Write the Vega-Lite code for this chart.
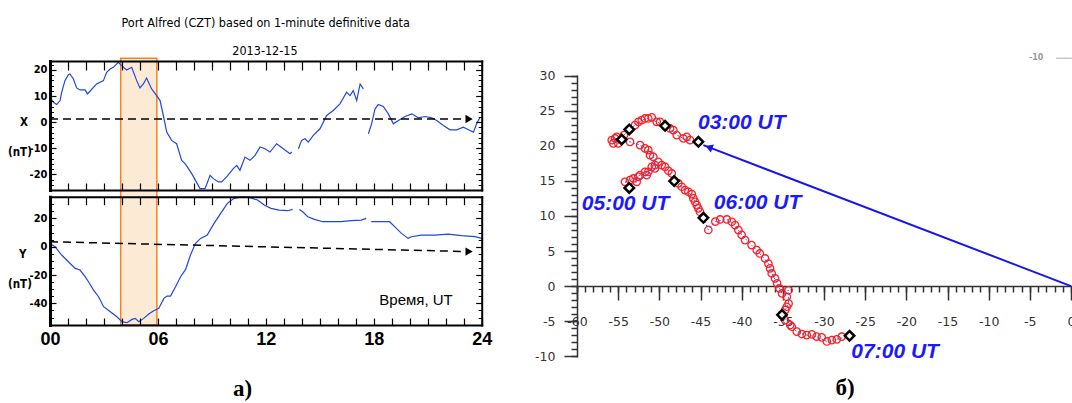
{
  "$schema": "https://vega.github.io/schema/vega-lite/v6.json",
  "width": 1072,
  "height": 403,
  "autosize": {"type": "none"},
  "padding": 0,
  "background": "white",
  "config": {
    "view": {"stroke": null},
    "axis": {"grid": false, "labelFlush": false, "labelOverlap": false, "labelBound": false, "domainColor": "black", "tickColor": "black", "labelColor": "black", "domainCap": "square"}
  },
  "datasets": {
    "xcomp": [
      {"h":0,"v":9.55,"s":1},{"h":0.19,"v":7.64,"s":1},{"h":0.37,"v":6.75,"s":1},{"h":0.56,"v":8.28,"s":1},{"h":0.65,"v":11.46,"s":1},{"h":0.83,"v":15.92,"s":1},{"h":1.02,"v":18.22,"s":1},{"h":1.11,"v":18.47,"s":1},{"h":1.3,"v":16.56,"s":1},{"h":1.48,"v":13.12,"s":1},{"h":1.67,"v":12.36,"s":1},{"h":1.95,"v":12.36,"s":1},{"h":2.08,"v":10.83,"s":1},{"h":2.22,"v":11.85,"s":1},{"h":2.59,"v":14.65,"s":1},{"h":2.97,"v":15.92,"s":1},{"h":3.15,"v":19.11,"s":1},{"h":3.34,"v":20.38,"s":1},{"h":3.52,"v":21.02,"s":1},{"h":3.8,"v":22.93,"s":1},{"h":3.98,"v":21.66,"s":1},{"h":4.26,"v":20.0,"s":1},{"h":4.54,"v":21.02,"s":1},{"h":4.82,"v":15.92,"s":1},{"h":5.0,"v":13.12,"s":1},{"h":5.19,"v":14.65,"s":1},{"h":5.37,"v":16.94,"s":1},{"h":5.65,"v":12.74,"s":1},{"h":5.93,"v":10.19,"s":1},{"h":6.12,"v":8.28,"s":1},{"h":6.3,"v":2.55,"s":1},{"h":6.49,"v":-3.82,"s":1},{"h":6.76,"v":-7.0,"s":1},{"h":7.04,"v":-8.28,"s":1},{"h":7.32,"v":-14.65,"s":1},{"h":7.51,"v":-15.92,"s":1},{"h":7.88,"v":-19.75,"s":1},{"h":8.34,"v":-25.48,"s":1},{"h":8.62,"v":-25.48,"s":1},{"h":8.9,"v":-20.38,"s":1},{"h":9.08,"v":-21.66,"s":1},{"h":9.36,"v":-22.93,"s":1},{"h":9.54,"v":-22.93,"s":1},{"h":9.82,"v":-21.02,"s":1},{"h":10.19,"v":-17.83,"s":1},{"h":10.38,"v":-16.56,"s":1},{"h":10.56,"v":-18.47,"s":1},{"h":10.84,"v":-13.38,"s":1},{"h":11.12,"v":-14.65,"s":1},{"h":11.4,"v":-12.74,"s":1},{"h":11.68,"v":-9.55,"s":1},{"h":11.95,"v":-10.19,"s":1},{"h":12.23,"v":-11.46,"s":1},{"h":12.6,"v":-8.28,"s":1},{"h":12.97,"v":-10.19,"s":1},{"h":13.34,"v":-12.1,"s":1},{"h":13.44,"v":-11.46,"s":1},
      {"h":13.81,"v":-10.19,"s":2},{"h":13.99,"v":-7.0,"s":2},{"h":14.18,"v":-6.37,"s":2},{"h":14.36,"v":-7.64,"s":2},{"h":14.64,"v":-5.1,"s":2},{"h":15.01,"v":-2.55,"s":2},{"h":15.38,"v":2.55,"s":2},{"h":15.75,"v":4.46,"s":2},{"h":16.12,"v":7.01,"s":2},{"h":16.49,"v":11.46,"s":2},{"h":16.68,"v":10.19,"s":2},{"h":16.86,"v":12.1,"s":2},{"h":17.05,"v":8.28,"s":2},{"h":17.24,"v":14.65,"s":2},{"h":17.42,"v":12.74,"s":2},
      {"h":17.7,"v":-4.46,"s":3},{"h":17.88,"v":-0.64,"s":3},{"h":18.07,"v":5.1,"s":3},{"h":18.25,"v":6.75,"s":3},{"h":18.53,"v":5.99,"s":3},{"h":18.81,"v":3.18,"s":3},{"h":19.09,"v":-0.64,"s":3},{"h":19.37,"v":0.64,"s":3},{"h":19.74,"v":2.17,"s":3},{"h":20.11,"v":3.18,"s":3},{"h":20.48,"v":1.66,"s":3},{"h":20.85,"v":2.17,"s":3},{"h":21.22,"v":1.66,"s":3},{"h":21.5,"v":0.64,"s":3},{"h":21.87,"v":-1.27,"s":3},{"h":22.24,"v":-2.93,"s":3},{"h":22.61,"v":-2.93,"s":3},{"h":22.98,"v":-1.91,"s":3},{"h":23.35,"v":-3.18,"s":3},{"h":23.54,"v":-3.82,"s":3},{"h":23.72,"v":-0.64,"s":3},{"h":23.91,"v":1.91,"s":3}
    ],
    "ycomp": [
      {"h":0,"v":2.35,"s":1},{"h":0.28,"v":0,"s":1},{"h":0.65,"v":-5.88,"s":1},{"h":1.02,"v":-10.59,"s":1},{"h":1.4,"v":-15.29,"s":1},{"h":1.67,"v":-16.47,"s":1},{"h":1.95,"v":-21.18,"s":1},{"h":2.14,"v":-24.7,"s":1},{"h":2.42,"v":-30.59,"s":1},{"h":2.7,"v":-35.29,"s":1},{"h":2.98,"v":-42.35,"s":1},{"h":3.35,"v":-45.88,"s":1},{"h":3.72,"v":-49.41,"s":1},{"h":4.0,"v":-52.94,"s":1},{"h":4.28,"v":-53.65,"s":1},{"h":4.56,"v":-51.29,"s":1},{"h":4.74,"v":-50.59,"s":1},{"h":4.93,"v":-52.94,"s":1},{"h":5.21,"v":-50.59,"s":1},{"h":5.49,"v":-47.53,"s":1},{"h":5.77,"v":-45.18,"s":1},{"h":6.05,"v":-43.53,"s":1},{"h":6.33,"v":-36.47,"s":1},{"h":6.51,"v":-34.82,"s":1},{"h":6.7,"v":-34.82,"s":1},{"h":6.98,"v":-28.24,"s":1},{"h":7.26,"v":-21.18,"s":1},{"h":7.54,"v":-16.0,"s":1},{"h":7.81,"v":-5.88,"s":1},{"h":8.09,"v":2.35,"s":1},{"h":8.37,"v":5.88,"s":1},{"h":8.74,"v":8.24,"s":1},{"h":9.12,"v":16.47,"s":1},{"h":9.49,"v":23.53,"s":1},{"h":9.86,"v":30.59,"s":1},{"h":10.23,"v":34.12,"s":1},{"h":10.61,"v":35.0,"s":1},{"h":11.07,"v":34.8,"s":1},{"h":11.54,"v":32.94,"s":1},{"h":11.91,"v":29.41,"s":1},{"h":12.28,"v":27.06,"s":1},{"h":12.74,"v":25.88,"s":1},{"h":13.21,"v":25.41,"s":1},{"h":13.49,"v":26.35,"s":1},
      {"h":13.86,"v":26.35,"s":2},{"h":14.05,"v":24.7,"s":2},{"h":14.33,"v":21.18,"s":2},{"h":14.7,"v":19.29,"s":2},{"h":15.16,"v":17.65,"s":2},{"h":15.63,"v":17.65,"s":2},{"h":16.19,"v":17.65,"s":2},{"h":16.74,"v":18.35,"s":2},{"h":17.3,"v":18.82,"s":2},{"h":17.58,"v":20.0,"s":2},
      {"h":17.86,"v":17.65,"s":3},{"h":18.42,"v":17.65,"s":3},{"h":18.88,"v":17.65,"s":3},{"h":19.26,"v":12.94,"s":3},{"h":19.54,"v":9.41,"s":3},{"h":19.91,"v":5.88,"s":3},{"h":20.09,"v":7.06,"s":3},{"h":20.65,"v":8.24,"s":3},{"h":21.4,"v":8.24,"s":3},{"h":22.14,"v":8.94,"s":3},{"h":22.88,"v":7.76,"s":3},{"h":23.63,"v":7.06,"s":3},{"h":24.0,"v":5.88,"s":3}
    ],
    "hodo": [
      {"i":1,"bx":-45.26,"by":20.57},{"i":2,"bx":-46.27,"by":20.81},{"i":3,"bx":-47.08,"by":21.05},{"i":4,"bx":-47.89,"by":21.53},{"i":5,"bx":-48.7,"by":22.48},{"i":6,"bx":-49.3,"by":22.85},{"i":7,"bx":-50.32,"by":23.42},{"i":8,"bx":-51.34,"by":23.9},{"i":9,"bx":-52.14,"by":23.66},{"i":10,"bx":-52.95,"by":22.95},{"i":11,"bx":-53.65,"by":22.34},{"i":12,"bx":-54.29,"by":21.53},{"i":13,"bx":-54.57,"by":20.9},{"i":14,"bx":-55.38,"by":21.05},{"i":15,"bx":-55.78,"by":20.81},{"i":16,"bx":-54.98,"by":20.34},{"i":17,"bx":-53.56,"by":20.57},{"i":18,"bx":-52.34,"by":20.1},{"i":19,"bx":-51.34,"by":19.39},{"i":20,"bx":-50.73,"by":18.43},{"i":21,"bx":-50.53,"by":17.25},{"i":22,"bx":-51.34,"by":16.3},{"i":23,"bx":-52.34,"by":15.82},{"i":24,"bx":-53.15,"by":15.35},{"i":25,"bx":-54.17,"by":14.87},{"i":26,"bx":-53.65,"by":14.0},{"i":27,"bx":-52.75,"by":14.87},{"i":28,"bx":-51.53,"by":15.82},{"i":29,"bx":-50.53,"by":16.78},{"i":30,"bx":-49.71,"by":17.25},{"i":31,"bx":-48.9,"by":16.44},{"i":32,"bx":-48.2,"by":14.97},{"i":33,"bx":-47.28,"by":14.16},{"i":34,"bx":-46.47,"by":13.45},{"i":35,"bx":-45.87,"by":12.5},{"i":36,"bx":-45.46,"by":11.55},{"i":37,"bx":-45.06,"by":10.6},{"i":38,"bx":-44.65,"by":9.74},{"i":39,"bx":-44.05,"by":8.0},{"i":40,"bx":-43.2,"by":9.2},{"i":41,"bx":-41.8,"by":9.5},{"i":42,"bx":-40.8,"by":8.7},{"i":43,"bx":-40.0,"by":7.3},{"i":44,"bx":-38.8,"by":5.85},{"i":45,"bx":-37.8,"by":4.65},{"i":46,"bx":-36.75,"by":3.2},{"i":47,"bx":-36.35,"by":1.8},{"i":48,"bx":-35.7,"by":0.4},{"i":49,"bx":-35.1,"by":-1.05},{"i":50,"bx":-34.3,"by":-0.6},{"i":51,"bx":-34.3,"by":-2.5},{"i":52,"bx":-34.7,"by":-3.4},{"i":53,"bx":-35.1,"by":-4.1},{"i":54,"bx":-34.1,"by":-5.55},{"i":55,"bx":-33.3,"by":-6.5},{"i":56,"bx":-32.1,"by":-7.0},{"i":57,"bx":-30.9,"by":-7.2},{"i":58,"bx":-29.65,"by":-7.9},{"i":59,"bx":-28.45,"by":-7.6},{"i":60,"bx":-26.9,"by":-7.1}
    ],
    "extracircles": [
      {"bx":-33.91,"by":-5.8},{"bx":-32.7,"by":-6.84},{"bx":-31.48,"by":-6.89},{"bx":-30.27,"by":-7.32},{"bx":-29.05,"by":-7.7},{"bx":-27.84,"by":-7.22},
      {"bx":-39.59,"by":6.56},{"bx":-38.17,"by":5.13},{"bx":-37.16,"by":3.94},{"bx":-36.55,"by":2.52},{"bx":-35.94,"by":1.09},{"bx":-35.41,"by":-0.33},{"bx":-34.52,"by":-1.52},{"bx":-34.73,"by":-4.85},{"bx":-34.52,"by":-2.95},
      {"bx":-42.62,"by":9.5},{"bx":-41.2,"by":9.17},{"bx":-40.4,"by":7.98},
      {"bx":-46.67,"by":21.28},{"bx":-48.3,"by":22.24},{"bx":-49.92,"by":23.42},{"bx":-50.92,"by":24.05},{"bx":-51.74,"by":23.9},{"bx":-52.55,"by":23.42},{"bx":-55.18,"by":21.28},{"bx":-55.59,"by":20.34},
      {"bx":-53.56,"by":15.11},{"bx":-52.55,"by":15.58},{"bx":-51.74,"by":16.29},{"bx":-50.92,"by":17.0},{"bx":-51.13,"by":18.67},{"bx":-51.74,"by":19.63},
      {"bx":-47.69,"by":14.64},{"bx":-46.88,"by":13.68},{"bx":-46.06,"by":13.11},{"bx":-45.66,"by":12.02},{"bx":-45.26,"by":11.08},
      {"bx":-50.12,"by":17.72},{"bx":-49.31,"by":17.0},{"bx":-48.49,"by":16.06}
    ],
    "diamonds": [
      {"bx":-45.26,"by":20.57},{"bx":-49.3,"by":22.85},{"bx":-53.65,"by":22.34},{"bx":-54.57,"by":20.9},{"bx":-53.65,"by":14.0},{"bx":-48.2,"by":14.97},{"bx":-44.65,"by":9.74},{"bx":-35.1,"by":-4.1},{"bx":-26.9,"by":-7.1}
    ],
    "timelabels": [
      {"bx":-39.99,"by":23.19,"t":"03:00 UT"},{"bx":-54.1,"by":11.69,"t":"05:00 UT"},{"bx":-38.07,"by":11.79,"t":"06:00 UT"},{"bx":-21.36,"by":-9.4,"t":"07:00 UT"}
    ]
  },
  "layer": [
    {
      "layer": [
        {
          "data": {"values": [{"h": 3.93, "h2": 5.94, "v": 24.5, "v2": -77.8}]},
          "mark": {"type": "rect", "fill": "#fdead5", "stroke": "#f5821f", "strokeWidth": 1.5},
          "encoding": {
            "x": {"field": "h", "type": "quantitative", "scale": {"domain": [0, 24], "range": [50, 481.7], "nice": false, "zero": false},
              "axis": {"orient": "top", "offset": -61, "values": [0,1,2,3,4,5,6,7,8,9,10,11,12,13,14,15,16,17,18,19,20,21,22,23,24], "labels": false, "tickSize": -9, "tickWidth": 1.2, "domainWidth": 2, "title": null, "zindex": 2}},
            "x2": {"field": "h2"},
            "y": {"field": "v", "type": "quantitative", "scale": {"domain": [-26.02, 23.45], "range": [190, 61], "nice": false, "zero": false},
              "axis": {"orient": "right", "offset": -590.3, "values": [-20,-10,0,10,20], "labels": false, "tickSize": -6, "tickWidth": 1.2, "domainWidth": 2, "title": null, "zindex": 2}},
            "y2": {"field": "v2"}
          }
        },
        {
          "data": {"name": "xcomp"},
          "mark": {"type": "line", "color": "#1f48e0", "strokeWidth": 1.2},
          "encoding": {
            "x": {"field": "h", "type": "quantitative", "scale": {"domain": [0, 24], "range": [50, 481.7], "nice": false, "zero": false},
              "axis": {"orient": "bottom", "offset": -213, "values": [0,1,2,3,4,5,6,7,8,9,10,11,12,13,14,15,16,17,18,19,20,21,22,23,24], "labels": false, "tickSize": -7, "tickWidth": 1.2, "domainWidth": 2, "title": null, "zindex": 2}},
            "y": {"field": "v", "type": "quantitative", "scale": {"domain": [-26.02, 23.45], "range": [190, 61], "nice": false, "zero": false},
              "axis": {"orient": "left", "offset": -50, "values": [-20,-10,0,10,20], "tickSize": -6, "tickWidth": 1.2, "labelPadding": 9, "labelFont": "Liberation Sans Narrow, DejaVu Sans Condensed, Liberation Sans", "labelFontSize": 11, "labelFontWeight": "bold", "labelExpr": "'' + datum.value", "domainWidth": 3, "title": null, "zindex": 2}},
            "detail": {"field": "s", "type": "nominal"}
          }
        },
        {
          "data": {"values": [{"h": 0, "v": 1.2}, {"h": 23.1, "v": 1.2}]},
          "mark": {"type": "line", "color": "black", "strokeWidth": 1.5, "strokeDash": [8, 5]},
          "encoding": {
            "x": {"field": "h", "type": "quantitative", "scale": {"domain": [0, 24], "range": [50, 481.7], "nice": false, "zero": false}, "axis": null},
            "y": {"field": "v", "type": "quantitative", "scale": {"domain": [-26.02, 23.45], "range": [190, 61], "nice": false, "zero": false},
              "axis": {"orient": "left", "offset": -50, "values": [-24,-22,-18,-16,-14,-12,-8,-6,-4,-2,2,4,6,8,12,14,16,18,22], "labels": false, "domain": false, "tickSize": -3.5, "tickWidth": 1, "title": null, "zindex": 2}}
          }
        },
        {
          "data": {"values": [{"h": 23.3, "v": 1.2}]},
          "mark": {"type": "point", "shape": "triangle-right", "filled": true, "color": "black", "opacity": 1, "size": 70},
          "encoding": {
            "x": {"field": "h", "type": "quantitative", "scale": {"domain": [0, 24], "range": [50, 481.7], "nice": false, "zero": false}, "axis": null},
            "y": {"field": "v", "type": "quantitative", "scale": {"domain": [-26.02, 23.45], "range": [190, 61], "nice": false, "zero": false},
              "axis": {"orient": "right", "offset": -590.3, "values": [-24,-22,-18,-16,-14,-12,-8,-6,-4,-2,2,4,6,8,12,14,16,18,22], "labels": false, "domain": false, "tickSize": -3.5, "tickWidth": 1, "title": null, "zindex": 2}}
          }
        },
        {
          "data": {"values": [{"h": 11.99, "v": 38.1, "t": "Port Alfred (CZT) based on 1-minute definitive data"}, {"h": 11.95, "v": 27.4, "t": "2013-12-15"}]},
          "mark": {"type": "text", "font": "Liberation Sans Narrow, DejaVu Sans Condensed, Liberation Sans", "fontSize": 12.5, "color": "black", "align": "center", "baseline": "middle"},
          "encoding": {
            "x": {"field": "h", "type": "quantitative", "scale": {"domain": [0, 24], "range": [50, 481.7], "nice": false, "zero": false}, "axis": null},
            "y": {"field": "v", "type": "quantitative", "scale": {"domain": [-26.02, 23.45], "range": [190, 61], "nice": false, "zero": false}, "axis": null},
            "text": {"field": "t"}
          }
        },
        {
          "data": {"values": [{"h": -1.45, "v": -0.23, "t": "X"}, {"h": -1.67, "v": -11.85, "t": "(nT)"}]},
          "mark": {"type": "text", "font": "Liberation Sans Narrow, DejaVu Sans Condensed, Liberation Sans", "fontSize": 11.5, "fontWeight": "bold", "color": "black", "align": "center", "baseline": "middle"},
          "encoding": {
            "x": {"field": "h", "type": "quantitative", "scale": {"domain": [0, 24], "range": [50, 481.7], "nice": false, "zero": false}, "axis": null},
            "y": {"field": "v", "type": "quantitative", "scale": {"domain": [-26.02, 23.45], "range": [190, 61], "nice": false, "zero": false}, "axis": null},
            "text": {"field": "t"}
          }
        }
      ],
      "resolve": {"axis": {"x": "independent", "y": "independent"}}
    },
    {
      "layer": [
        {
          "data": {"name": "ycomp"},
          "mark": {"type": "line", "color": "#1f48e0", "strokeWidth": 1.2},
          "encoding": {
            "x": {"field": "h", "type": "quantitative", "scale": {"domain": [0, 24], "range": [50, 481.7], "nice": false, "zero": false},
              "axis": {"orient": "bottom", "offset": -78, "values": [0,1,2,3,4,5,6,7,8,9,10,11,12,13,14,15,16,17,18,19,20,21,22,23,24], "tickSize": -7, "tickWidth": 1.2, "domainWidth": 2, "labelPadding": 12, "labelFont": "Liberation Sans", "labelFontSize": 18, "labelFontWeight": "bold", "labelExpr": "datum.value % 6 === 0 ? (datum.value < 10 ? '0' + datum.value : '' + datum.value) : ''", "title": null, "zindex": 2}},
            "y": {"field": "v", "type": "quantitative", "scale": {"domain": [-55.26, 35.3], "range": [325, 196.7], "nice": false, "zero": false},
              "axis": {"orient": "left", "offset": -50, "values": [-40,-20,0,20], "tickSize": -6, "tickWidth": 1.2, "labelPadding": 9, "labelFont": "Liberation Sans Narrow, DejaVu Sans Condensed, Liberation Sans", "labelFontSize": 11, "labelFontWeight": "bold", "labelExpr": "'' + datum.value", "domainWidth": 3, "title": null, "zindex": 2}},
            "detail": {"field": "s", "type": "nominal"}
          }
        },
        {
          "data": {"values": [{"h": 0, "v": 3.5}, {"h": 23.1, "v": -3.4}]},
          "mark": {"type": "line", "color": "black", "strokeWidth": 1.5, "strokeDash": [8, 5]},
          "encoding": {
            "x": {"field": "h", "type": "quantitative", "scale": {"domain": [0, 24], "range": [50, 481.7], "nice": false, "zero": false},
              "axis": {"orient": "top", "offset": -196.7, "values": [0,1,2,3,4,5,6,7,8,9,10,11,12,13,14,15,16,17,18,19,20,21,22,23,24], "labels": false, "tickSize": -8, "tickWidth": 1.2, "domainWidth": 2, "title": null, "zindex": 2}},
            "y": {"field": "v", "type": "quantitative", "scale": {"domain": [-55.26, 35.3], "range": [325, 196.7], "nice": false, "zero": false},
              "axis": {"orient": "right", "offset": -590.3, "values": [-40,-20,0,20], "labels": false, "tickSize": -6, "tickWidth": 1.2, "domainWidth": 2, "title": null, "zindex": 2}}
          }
        },
        {
          "data": {"values": [{"h": 23.3, "v": -3.45}]},
          "mark": {"type": "point", "shape": "triangle-right", "filled": true, "color": "black", "opacity": 1, "size": 70},
          "encoding": {
            "x": {"field": "h", "type": "quantitative", "scale": {"domain": [0, 24], "range": [50, 481.7], "nice": false, "zero": false}, "axis": null},
            "y": {"field": "v", "type": "quantitative", "scale": {"domain": [-55.26, 35.3], "range": [325, 196.7], "nice": false, "zero": false},
              "axis": {"orient": "left", "offset": -50, "values": [-50,-45,-35,-30,-25,-15,-10,-5,5,10,15,25,30,35], "labels": false, "domain": false, "tickSize": -3.5, "tickWidth": 1, "title": null, "zindex": 2}}
          }
        },
        {
          "data": {"values": [{"h": -1.52, "v": -5.86, "t": "Y"}, {"h": -1.67, "v": -27.0, "t": "(nT)"}]},
          "mark": {"type": "text", "font": "Liberation Sans Narrow, DejaVu Sans Condensed, Liberation Sans", "fontSize": 11.5, "fontWeight": "bold", "color": "black", "align": "center", "baseline": "middle"},
          "encoding": {
            "x": {"field": "h", "type": "quantitative", "scale": {"domain": [0, 24], "range": [50, 481.7], "nice": false, "zero": false}, "axis": null},
            "y": {"field": "v", "type": "quantitative", "scale": {"domain": [-55.26, 35.3], "range": [325, 196.7], "nice": false, "zero": false},
              "axis": {"orient": "right", "offset": -590.3, "values": [-50,-45,-35,-30,-25,-15,-10,-5,5,10,15,25,30,35], "labels": false, "domain": false, "tickSize": -3.5, "tickWidth": 1, "title": null, "zindex": 2}},
            "text": {"field": "t"}
          }
        },
        {
          "data": {"values": [{"h": 20.35, "v": -37.6, "t": "Время, UT"}]},
          "mark": {"type": "text", "font": "Liberation Sans", "fontSize": 15, "color": "black", "align": "center", "baseline": "middle"},
          "encoding": {
            "x": {"field": "h", "type": "quantitative", "scale": {"domain": [0, 24], "range": [50, 481.7], "nice": false, "zero": false}, "axis": null},
            "y": {"field": "v", "type": "quantitative", "scale": {"domain": [-55.26, 35.3], "range": [325, 196.7], "nice": false, "zero": false}, "axis": null},
            "text": {"field": "t"}
          }
        },
        {
          "data": {"values": [{"h": 10.7, "v": -100.4, "t": "а)"}]},
          "mark": {"type": "text", "font": "Liberation Serif", "fontSize": 23, "fontWeight": "bold", "color": "black", "align": "center", "baseline": "middle"},
          "encoding": {
            "x": {"field": "h", "type": "quantitative", "scale": {"domain": [0, 24], "range": [50, 481.7], "nice": false, "zero": false}, "axis": null},
            "y": {"field": "v", "type": "quantitative", "scale": {"domain": [-55.26, 35.3], "range": [325, 196.7], "nice": false, "zero": false}, "axis": null},
            "text": {"field": "t"}
          }
        }
      ],
      "resolve": {"axis": {"x": "independent", "y": "independent"}}
    },
    {
      "layer": [
        {
          "data": {"name": "hodo"},
          "mark": {"type": "point", "shape": "circle", "filled": false, "stroke": "#ff1f1f", "strokeWidth": 1.3, "opacity": 1, "size": 55},
          "encoding": {
            "x": {"field": "bx", "type": "quantitative", "scale": {"domain": [-60, 0], "range": [577, 1071], "nice": false, "zero": false},
              "axis": {"orient": "bottom", "offset": -117, "values": [-60,-55,-50,-45,-40,-35,-30,-25,-20,-15,-10,-5,0], "tickSize": 14, "tickWidth": 1.5, "tickColor": "#333333", "domainColor": "#333333", "domainWidth": 1.5, "labelFont": "DejaVu Sans", "labelFontSize": 12.5, "labelColor": "#333333", "labelPadding": 15, "labelExpr": "'' + datum.value", "title": null, "zindex": 0}},
            "y": {"field": "by", "type": "quantitative", "scale": {"domain": [-10, 30], "range": [356.2, 75.7], "nice": false, "zero": false},
              "axis": {"orient": "left", "offset": -577, "values": [-10,-5,0,5,10,15,20,25,30], "tickSize": 13, "tickWidth": 1.5, "tickColor": "#333333", "domainColor": "#333333", "domainWidth": 1.5, "labelFont": "DejaVu Sans", "labelFontSize": 12.5, "labelColor": "#333333", "labelPadding": 9, "labelExpr": "'' + datum.value", "title": null, "zindex": 0}}
          }
        },
        {
          "data": {"name": "extracircles"},
          "mark": {"type": "point", "shape": "circle", "filled": false, "stroke": "#ff1f1f", "strokeWidth": 1.3, "opacity": 1, "size": 55},
          "encoding": {
            "x": {"field": "bx", "type": "quantitative", "scale": {"domain": [-60, 0], "range": [577, 1071], "nice": false, "zero": false}, "axis": null},
            "y": {"field": "by", "type": "quantitative", "scale": {"domain": [-10, 30], "range": [356.2, 75.7], "nice": false, "zero": false}, "axis": null}
          }
        },
        {
          "data": {"name": "hodo"},
          "mark": {"type": "line", "color": "#3a5cff", "strokeWidth": 1, "strokeDash": [2, 2]},
          "encoding": {
            "x": {"field": "bx", "type": "quantitative", "scale": {"domain": [-60, 0], "range": [577, 1071], "nice": false, "zero": false},
              "axis": {"orient": "bottom", "offset": -117, "values": [-60,-59,-58,-57,-56,-55,-54,-53,-52,-51,-50,-49,-48,-47,-46,-45,-44,-43,-42,-41,-40,-39,-38,-37,-36,-35,-34,-33,-32,-31,-30,-29,-28,-27,-26,-25,-24,-23,-22,-21,-20,-19,-18,-17,-16,-15,-14,-13,-12,-11,-10,-9,-8,-7,-6,-5,-4,-3,-2,-1,0], "labels": false, "domain": false, "tickSize": 6, "tickWidth": 1.5, "tickColor": "#333333", "title": null, "zindex": 0}},
            "y": {"field": "by", "type": "quantitative", "scale": {"domain": [-10, 30], "range": [356.2, 75.7], "nice": false, "zero": false},
              "axis": {"orient": "left", "offset": -577, "values": [-10,-9,-8,-7,-6,-5,-4,-3,-2,-1,0,1,2,3,4,5,6,7,8,9,10,11,12,13,14,15,16,17,18,19,20,21,22,23,24,25,26,27,28,29,30], "labels": false, "domain": false, "tickSize": 6, "tickWidth": 1.5, "tickColor": "#333333", "title": null, "zindex": 0}},
            "order": {"field": "i", "type": "quantitative"}
          }
        },
        {
          "data": {"values": [{"bx": 0, "by": 0}, {"bx": -44.65, "by": 20.1}]},
          "mark": {"type": "line", "color": "#1515f0", "strokeWidth": 2},
          "encoding": {
            "x": {"field": "bx", "type": "quantitative", "scale": {"domain": [-60, 0], "range": [577, 1071], "nice": false, "zero": false}, "axis": null},
            "y": {"field": "by", "type": "quantitative", "scale": {"domain": [-10, 30], "range": [356.2, 75.7], "nice": false, "zero": false}, "axis": null}
          }
        },
        {
          "data": {"values": [{"bx": -43.97, "by": 19.8}]},
          "mark": {"type": "point", "shape": "triangle-up", "angle": 291, "filled": true, "color": "#1515f0", "opacity": 1, "size": 70},
          "encoding": {
            "x": {"field": "bx", "type": "quantitative", "scale": {"domain": [-60, 0], "range": [577, 1071], "nice": false, "zero": false}, "axis": null},
            "y": {"field": "by", "type": "quantitative", "scale": {"domain": [-10, 30], "range": [356.2, 75.7], "nice": false, "zero": false}, "axis": null}
          }
        },
        {
          "data": {"name": "diamonds"},
          "mark": {"type": "point", "shape": "diamond", "filled": true, "fill": "white", "stroke": "black", "strokeWidth": 2.5, "opacity": 1, "size": 90},
          "encoding": {
            "x": {"field": "bx", "type": "quantitative", "scale": {"domain": [-60, 0], "range": [577, 1071], "nice": false, "zero": false}, "axis": null},
            "y": {"field": "by", "type": "quantitative", "scale": {"domain": [-10, 30], "range": [356.2, 75.7], "nice": false, "zero": false}, "axis": null}
          }
        },
        {
          "data": {"name": "timelabels"},
          "mark": {"type": "text", "font": "Liberation Sans", "fontSize": 21, "fontWeight": "bold", "fontStyle": "italic", "color": "#1a1aff", "align": "center", "baseline": "middle"},
          "encoding": {
            "x": {"field": "bx", "type": "quantitative", "scale": {"domain": [-60, 0], "range": [577, 1071], "nice": false, "zero": false}, "axis": null},
            "y": {"field": "by", "type": "quantitative", "scale": {"domain": [-10, 30], "range": [356.2, 75.7], "nice": false, "zero": false}, "axis": null},
            "text": {"field": "t"}
          }
        },
        {
          "data": {"values": [{"bx": -27.44, "by": -14.54, "t": "б)"}]},
          "mark": {"type": "text", "font": "Liberation Serif", "fontSize": 23, "fontWeight": "bold", "color": "black", "align": "center", "baseline": "middle"},
          "encoding": {
            "x": {"field": "bx", "type": "quantitative", "scale": {"domain": [-60, 0], "range": [577, 1071], "nice": false, "zero": false}, "axis": null},
            "y": {"field": "by", "type": "quantitative", "scale": {"domain": [-10, 30], "range": [356.2, 75.7], "nice": false, "zero": false}, "axis": null},
            "text": {"field": "t"}
          }
        },
        {
          "data": {"values": [{"bx": -4.23, "by": 32.5, "t": "-10"}]},
          "mark": {"type": "text", "font": "DejaVu Sans", "fontSize": 8, "fontWeight": "bold", "color": "#999999", "align": "center", "baseline": "middle"},
          "encoding": {
            "x": {"field": "bx", "type": "quantitative", "scale": {"domain": [-60, 0], "range": [577, 1071], "nice": false, "zero": false}, "axis": null},
            "y": {"field": "by", "type": "quantitative", "scale": {"domain": [-10, 30], "range": [356.2, 75.7], "nice": false, "zero": false}, "axis": null},
            "text": {"field": "t"}
          }
        },
        {
          "data": {"values": [{"bx": -1.8, "bx2": 0.1, "by": 32.5}]},
          "mark": {"type": "rule", "color": "#aaaaaa", "strokeWidth": 1},
          "encoding": {
            "x": {"field": "bx", "type": "quantitative", "scale": {"domain": [-60, 0], "range": [577, 1071], "nice": false, "zero": false}, "axis": null},
            "x2": {"field": "bx2"},
            "y": {"field": "by", "type": "quantitative", "scale": {"domain": [-10, 30], "range": [356.2, 75.7], "nice": false, "zero": false}, "axis": null}
          }
        }
      ],
      "resolve": {"axis": {"x": "independent", "y": "independent"}}
    }
  ],
  "resolve": {"scale": {"x": "independent", "y": "independent"}, "axis": {"x": "independent", "y": "independent"}}
}
